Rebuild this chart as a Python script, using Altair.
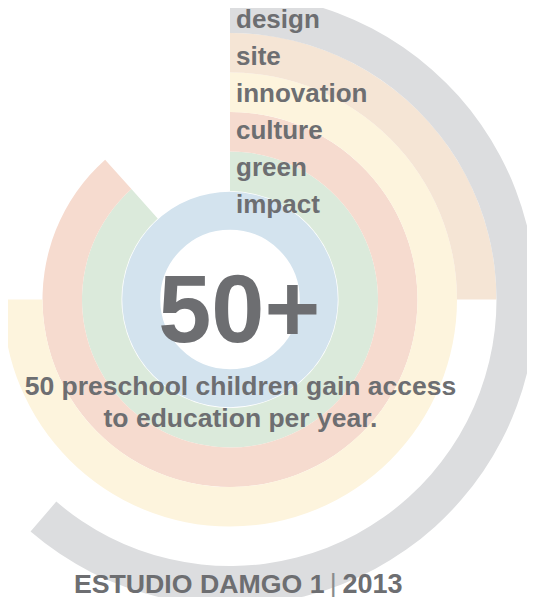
import math
import altair as alt
import pandas as pd

# ---- data ----
categories = ["impact", "green", "culture", "innovation", "site", "design"]
ring_index = [0, 1, 2, 3, 4, 5]
percent_of_circle = [100, 88.4, 88.4, 75, 25, 61.3]
ring_colors = ["#d3e3ee", "#dbeadb", "#f6dbcf", "#fdf4dd", "#f5e5d5", "#dcdddf"]

big_number = ["50+"]
subtitle_lines = ["50 preschool children gain access", "to education per year."]
footer_left = ["ESTUDIO DAMGO 1"]
footer_sep = ["|"]
footer_right = ["2013"]

TEXT_COLOR = "#6d6e71"
FONT = "Liberation Sans"
CX, CY = 222, 291.5  # centre of the rings inside the plot area

df = pd.DataFrame({
    "cat": categories,
    "ring": ring_index,
    "r0": ring_index,
    "r1": [i + 1 for i in ring_index],
    "start": [0] * len(categories),
    "end": percent_of_circle,
})

arcs = alt.Chart(df).mark_arc(stroke="white").encode(
    theta=alt.Theta("start:Q", stack=None,
                    scale=alt.Scale(domain=[0, 100], range=[0, 2 * math.pi])),
    theta2="end:Q",
    radius=alt.Radius("r0:Q",
                      scale=alt.Scale(type="linear", domain=[0, 6], range=[69, 306], zero=False)),
    radius2="r1:Q",
    color=alt.Color("cat:N", scale=alt.Scale(domain=categories, range=ring_colors), legend=None),
    strokeWidth=alt.condition("datum.cat === 'impact'", alt.value(1.5), alt.value(0)),
    x=alt.value(CX),
    y=alt.value(CY),
)

labels = alt.Chart(df).mark_text(
    align="left", baseline="alphabetic", dx=6, theta=0,
    font=FONT, fontWeight="bold", fontSize=26, color=TEXT_COLOR,
).encode(
    text="cat:N",
    radius=alt.Radius("ring:Q",
                      scale=alt.Scale(type="linear", domain=[0, 5], range=[86.5, 271.8], zero=False)),
    x=alt.value(CX),
    y=alt.value(CY),
)


def annotation(lines, x, y, size, align="center", weight="bold", color=TEXT_COLOR):
    return alt.Chart(pd.DataFrame({"t": lines})).mark_text(
        align=align, baseline="alphabetic", font=FONT, fontWeight=weight,
        fontSize=size, color=color,
    ).encode(text="t:N", x=alt.value(x), y=alt.value(y))


big = annotation(big_number, 231.2, 333.7, 95.5)
sub1 = annotation([subtitle_lines[0]], 232.5, 387, 26.5)
sub2 = annotation([subtitle_lines[1]], 232.5, 419, 26.5)
foot_l = annotation(footer_left, 316.5, 584.5, 26.7, align="right")
foot_s = annotation(footer_sep, 325.3, 584.5, 27, weight="normal", color="#8a8b8e")
foot_r = annotation(footer_right, 334.5, 584.5, 27, align="left")

chart = alt.layer(arcs, labels, big, sub1, sub2, foot_l, foot_s, foot_r).resolve_scale(
    radius="independent"
).properties(
    width=519, height=589, padding=0,
    autosize=alt.AutoSizeParams(type="none"),
).configure_view(stroke=None)

chart.save("out.html", embed_options={"renderer": "svg", "actions": False})
